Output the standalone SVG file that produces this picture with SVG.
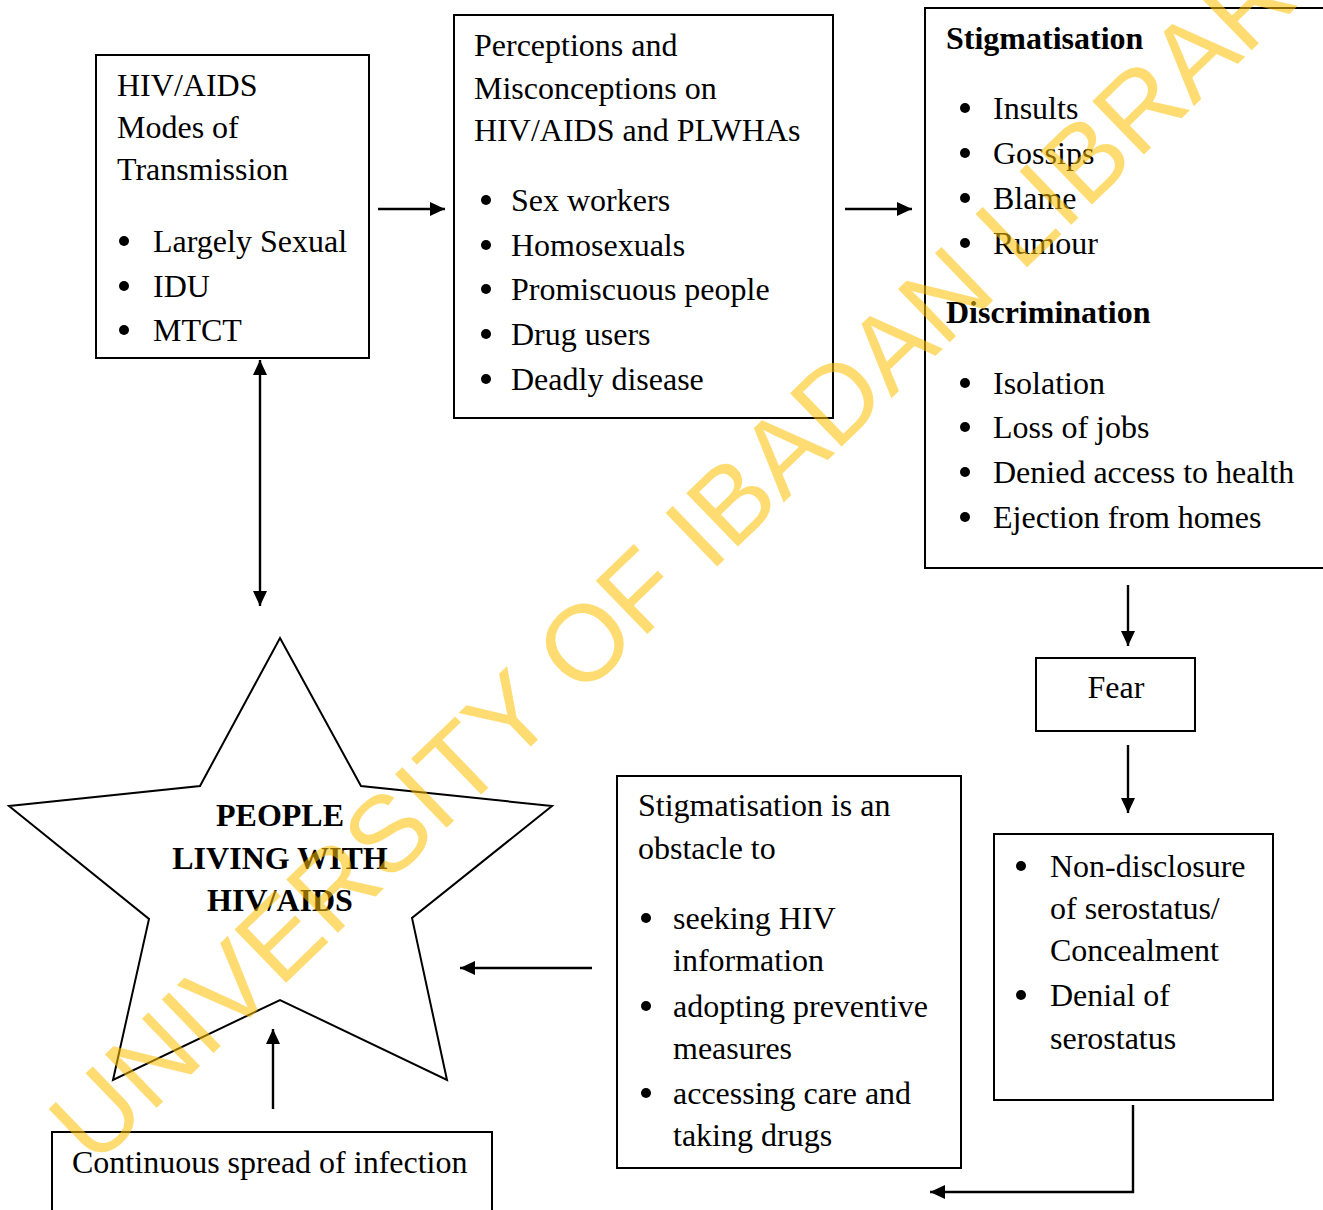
<svg xmlns="http://www.w3.org/2000/svg" width="1323" height="1210" viewBox="0 0 1323 1210">
<defs>
<marker id="ah" viewBox="0 0 15 14" refX="15" refY="7" markerWidth="15" markerHeight="14" markerUnits="userSpaceOnUse" orient="auto-start-reverse">
<path d="M0,0 L15,7 L0,14 Z" fill="#000"/>
</marker>
<style>
.box{fill:#fff;stroke:#000;stroke-width:2}
.t{font-family:"Liberation Serif","Times New Roman",serif;font-size:32px;fill:#000}
.b{font-weight:bold}
.dot{fill:#000}
.c{stroke:#000;stroke-width:2.4;fill:none}
.wm{font-family:"Liberation Sans",Arial,sans-serif;font-size:108px;fill:#FFC000;opacity:0.55}
</style>
</defs>
<rect width="1323" height="1210" fill="#fff"/>

<g id="modes">
<rect class="box" x="96" y="55" width="273" height="303"/>
<text class="t" x="117" y="96">HIV/AIDS</text>
<text class="t" x="117" y="138">Modes of</text>
<text class="t" x="117" y="180">Transmission</text>
<circle class="dot" cx="124" cy="241" r="5"/><text class="t" x="153" y="252">Largely Sexual</text>
<circle class="dot" cx="124" cy="286" r="5"/><text class="t" x="153" y="297">IDU</text>
<circle class="dot" cx="124" cy="330" r="5"/><text class="t" x="153" y="341">MTCT</text>
</g>

<g id="perceptions">
<rect class="box" x="454" y="15" width="379" height="403"/>
<text class="t" x="474" y="56">Perceptions and</text>
<text class="t" x="474" y="99">Misconceptions on</text>
<text class="t" x="474" y="141">HIV/AIDS and PLWHAs</text>
<circle class="dot" cx="486" cy="200" r="5"/><text class="t" x="511" y="211">Sex workers</text>
<circle class="dot" cx="486" cy="245" r="5"/><text class="t" x="511" y="256">Homosexuals</text>
<circle class="dot" cx="486" cy="289" r="5"/><text class="t" x="511" y="300">Promiscuous people</text>
<circle class="dot" cx="486" cy="334" r="5"/><text class="t" x="511" y="345">Drug users</text>
<circle class="dot" cx="486" cy="379" r="5"/><text class="t" x="511" y="390">Deadly disease</text>
</g>

<g id="stigma">
<rect class="box" x="925" y="8" width="420" height="560"/>
<text class="t b" x="946" y="49">Stigmatisation</text>
<circle class="dot" cx="965" cy="108" r="5"/><text class="t" x="993" y="119">Insults</text>
<circle class="dot" cx="965" cy="153" r="5"/><text class="t" x="993" y="164">Gossips</text>
<circle class="dot" cx="965" cy="198" r="5"/><text class="t" x="993" y="209">Blame</text>
<circle class="dot" cx="965" cy="243" r="5"/><text class="t" x="993" y="254">Rumour</text>
<text class="t b" x="946" y="323">Discrimination</text>
<circle class="dot" cx="965" cy="383" r="5"/><text class="t" x="993" y="394">Isolation</text>
<circle class="dot" cx="965" cy="427" r="5"/><text class="t" x="993" y="438">Loss of jobs</text>
<circle class="dot" cx="965" cy="472" r="5"/><text class="t" x="993" y="483">Denied access to health</text>
<circle class="dot" cx="965" cy="517" r="5"/><text class="t" x="993" y="528">Ejection from homes</text>
</g>

<g id="fear">
<rect class="box" x="1036" y="658" width="159" height="73"/>
<text class="t" x="1116" y="698" text-anchor="middle">Fear</text>
</g>

<g id="nondisclosure">
<rect class="box" x="994" y="834" width="279" height="266"/>
<circle class="dot" cx="1021" cy="866" r="5"/><text class="t" x="1050" y="877">Non-disclosure</text>
<text class="t" x="1050" y="919">of serostatus/</text>
<text class="t" x="1050" y="961">Concealment</text>
<circle class="dot" cx="1021" cy="995" r="5"/><text class="t" x="1050" y="1006">Denial of</text>
<text class="t" x="1050" y="1049">serostatus</text>
</g>

<g id="obstacle">
<rect class="box" x="617" y="776" width="344" height="392"/>
<text class="t" x="638" y="816">Stigmatisation is an</text>
<text class="t" x="638" y="859">obstacle to</text>
<circle class="dot" cx="646" cy="918" r="5"/><text class="t" x="673" y="929">seeking HIV</text>
<text class="t" x="673" y="971">information</text>
<circle class="dot" cx="646" cy="1006" r="5"/><text class="t" x="673" y="1017">adopting preventive</text>
<text class="t" x="673" y="1059">measures</text>
<circle class="dot" cx="646" cy="1093" r="5"/><text class="t" x="673" y="1104">accessing care and</text>
<text class="t" x="673" y="1146">taking drugs</text>
</g>

<g id="plwha">
<polygon points="280,638 361,786 552,806 412,918 447,1080 280,1000 113,1080 149,919 9,806 200,786" fill="#fff" stroke="#000" stroke-width="2"/>
<text class="t b" x="280" y="826" text-anchor="middle">PEOPLE</text>
<text class="t b" x="280" y="869" text-anchor="middle">LIVING WITH</text>
<text class="t b" x="280" y="911" text-anchor="middle">HIV/AIDS</text>
</g>

<g id="spread">
<rect class="box" x="52" y="1132" width="440" height="100"/>
<text class="t" x="72" y="1173">Continuous spread of infection</text>
</g>

<g id="connectors">
<line class="c" x1="378" y1="209" x2="445" y2="209" marker-end="url(#ah)"/>
<line class="c" x1="845" y1="209" x2="912" y2="209" marker-end="url(#ah)"/>
<line class="c" x1="260" y1="360" x2="260" y2="606" marker-start="url(#ah)" marker-end="url(#ah)"/>
<line class="c" x1="1128" y1="585" x2="1128" y2="646" marker-end="url(#ah)"/>
<line class="c" x1="1128" y1="745" x2="1128" y2="813" marker-end="url(#ah)"/>
<polyline class="c" points="1133,1105 1133,1192 930,1192" stroke-width="2.8" marker-end="url(#ah)"/>
<line class="c" x1="592" y1="968" x2="460" y2="968" marker-end="url(#ah)"/>
<line class="c" x1="273" y1="1109" x2="273" y2="1029" marker-end="url(#ah)"/>
</g>

<text class="wm" x="723" y="561" text-anchor="middle" transform="rotate(-44 723 561)">UNIVERSITY OF IBADAN LIBRARY</text>
</svg>
